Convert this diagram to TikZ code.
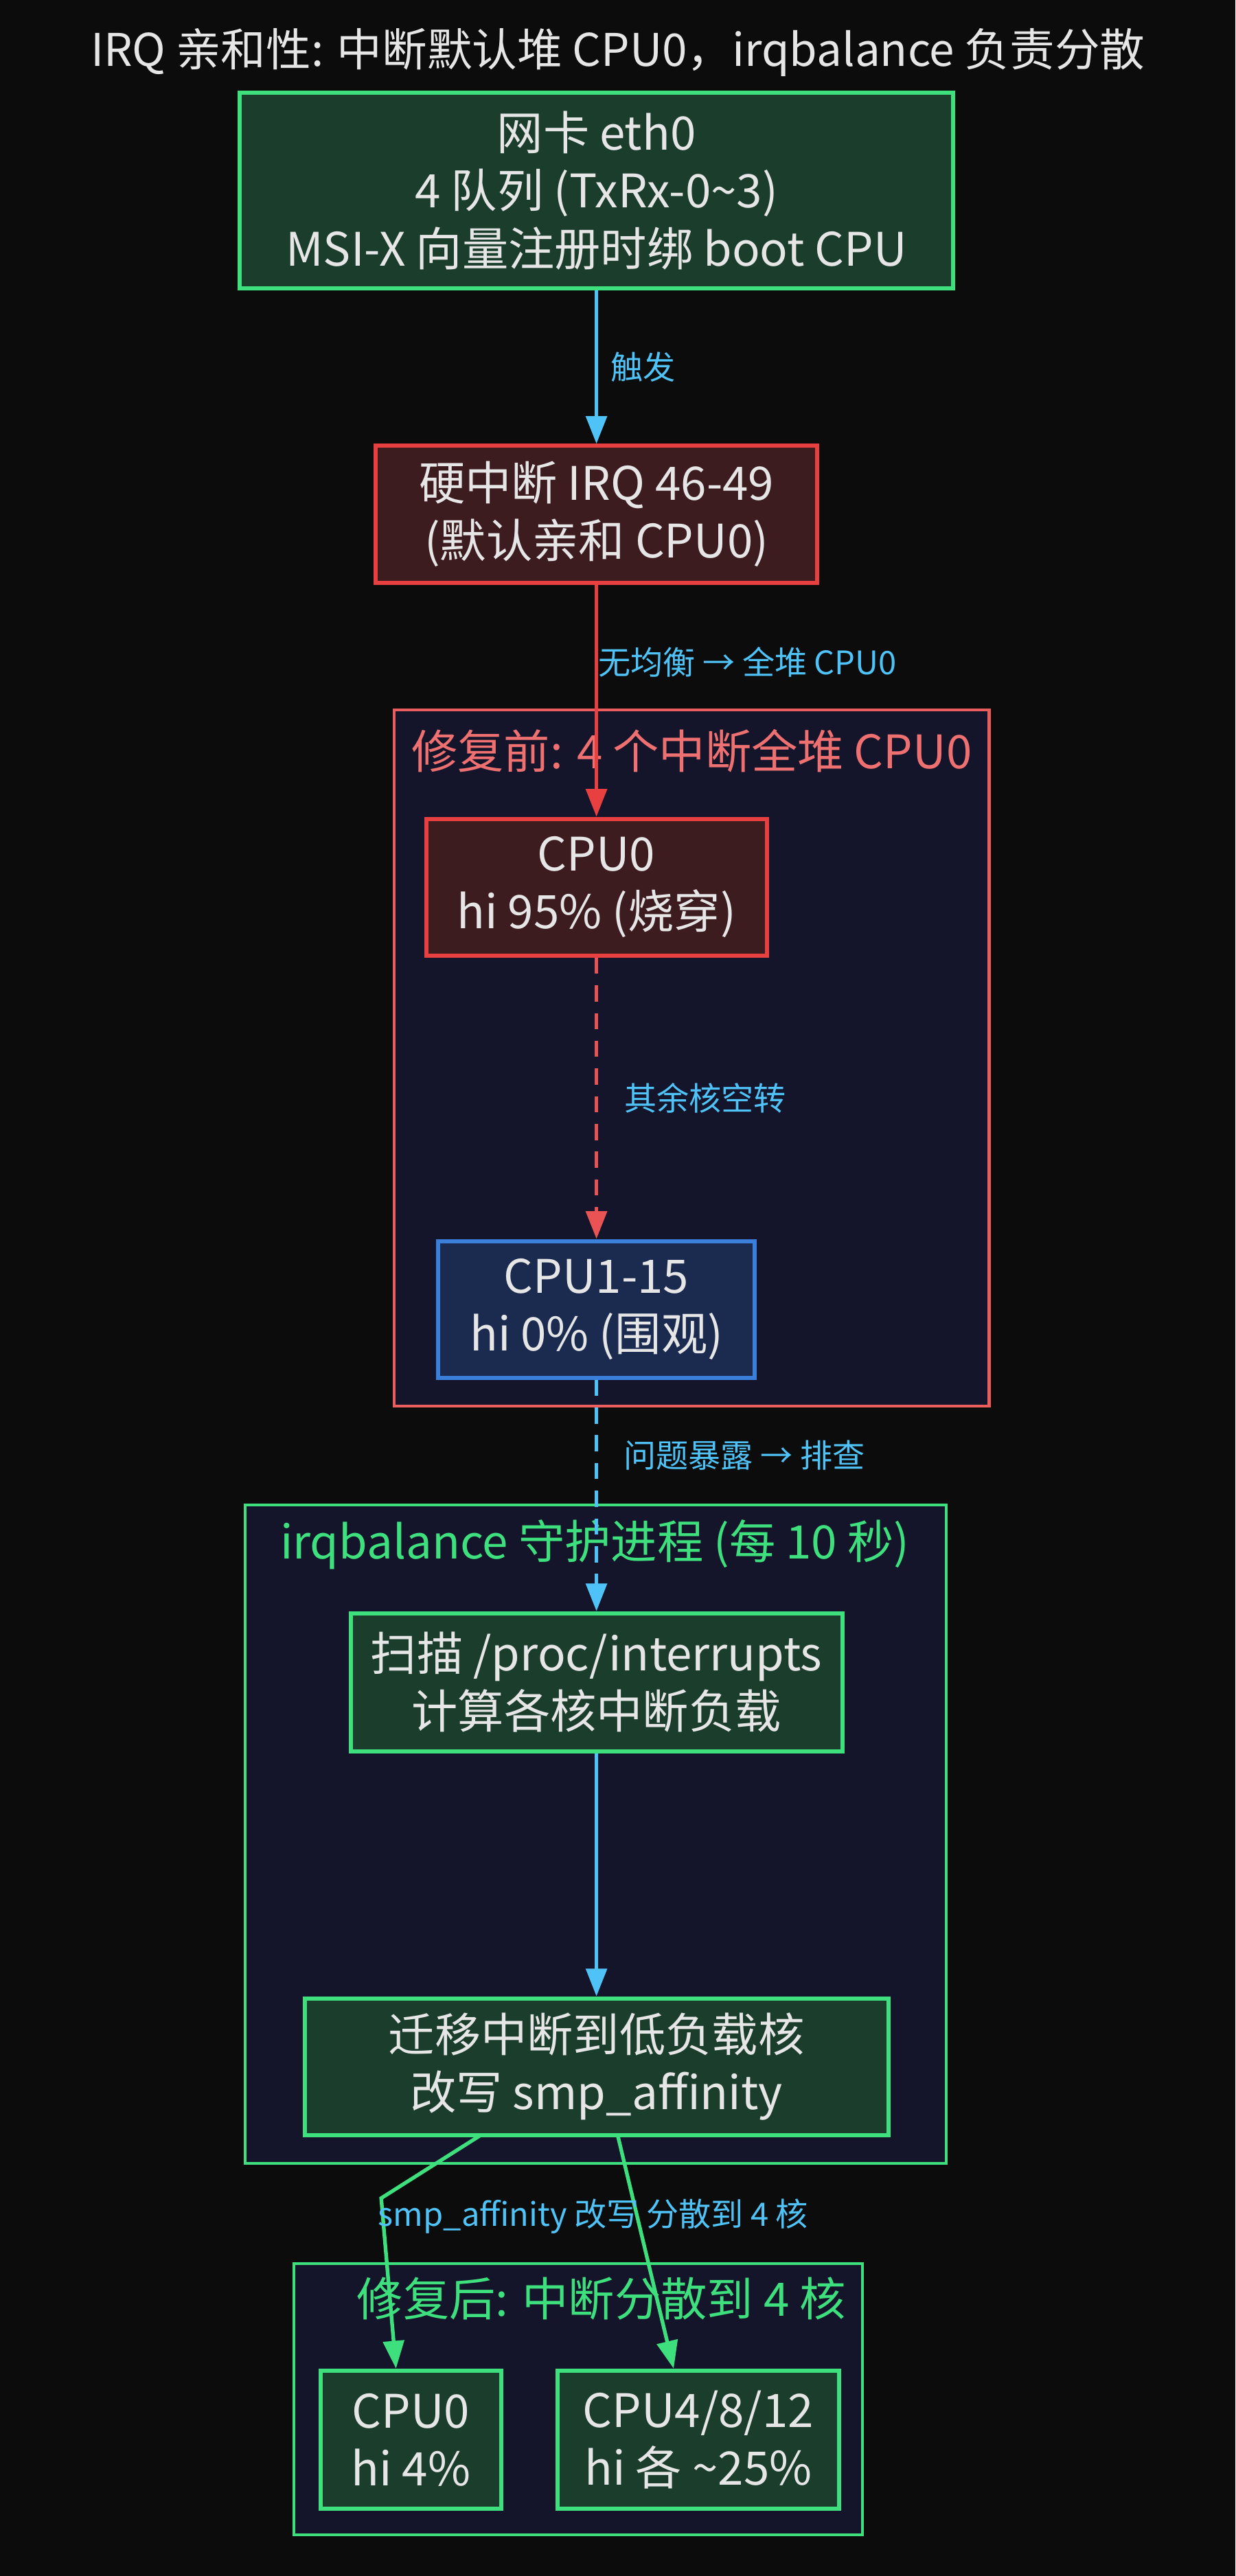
\documentclass[tikz,border=0pt]{standalone}
\usepackage{fontspec}
\setmainfont{Noto Sans CJK SC}
\usetikzlibrary{arrows.meta}
\definecolor{bg}{HTML}{0C0C0C}
\definecolor{txt}{HTML}{E6E6E6}
\definecolor{gfill}{HTML}{1B3D2C}
\definecolor{gline}{HTML}{3EE07E}
\definecolor{rfill}{HTML}{3D1C20}
\definecolor{rline}{HTML}{E84040}
\definecolor{bfill}{HTML}{1B2B50}
\definecolor{bline}{HTML}{3A80DA}
\definecolor{cfill}{HTML}{14152A}
\definecolor{elab}{HTML}{4FC3F7}
\tikzset{
  box/.style={draw, line width=1.8pt, text=txt, align=center, inner sep=0pt,
    font=\fontsize{20}{25}\selectfont},
  gbox/.style={box, fill=gfill, draw=gline},
  rbox/.style={box, fill=rfill, draw=rline},
  bbox/.style={box, fill=bfill, draw=bline},
  clus/.style={draw, line width=1.2pt, fill=cfill},
  ctitle/.style={font=\fontsize{20}{24}\selectfont},
  elabel/.style={text=elab, font=\fontsize{14}{17}\selectfont},
  arr/.style={line width=1.6pt, -{Triangle[length=12pt,width=9pt]}}
}
\begin{document}
\begin{tikzpicture}[x=0.025cm, y=-0.025cm]
\fill[bg] (0,0) rectangle (752,1568);
\useasboundingbox (0,0) rectangle (752,1568);

\node[text=txt, font=\fontsize{19.5}{22}\selectfont] (title) at (376,32) {IRQ 亲和性: 中断默认堆 CPU0，irqbalance 负责分散};

% clusters
\draw[clus, draw=rline!85] (240,432) rectangle (602,856);
\node[ctitle, text=rline!75!white] (ctbefore) at (421,457) {修复前: 4 个中断全堆 CPU0};
\draw[clus, draw=gline] (149,916) rectangle (576,1317);
\node[ctitle, text=gline] (ctirqb) at (362,940) {irqbalance 守护进程 (每 10 秒)};
\draw[clus, draw=gline] (179,1378) rectangle (525,1543);
\node[ctitle, text=gline] (ctafter) at (366,1399) {修复后: 中断分散到 4 核};

% nodes
\node[gbox, minimum width=10.85cm, minimum height=2.98cm] (nic) at (363,116) {网卡 eth0\\4 队列 (TxRx-0\textasciitilde 3)\\MSI-X 向量注册时绑 boot CPU};
\node[rbox, minimum width=6.72cm, minimum height=2.08cm] (irq) at (363,313) {硬中断 IRQ 46-49\\(默认亲和 CPU0)};
\node[rbox, minimum width=5.18cm, minimum height=2.08cm] (cpu0) at (363,540) {CPU0\\hi 95\% (烧穿)};
\node[bbox, minimum width=4.82cm, minimum height=2.08cm] (cpurest) at (363,797) {CPU1-15\\hi 0\% (围观)};
\node[gbox, minimum width=7.48cm, minimum height=2.1cm] (scan) at (363,1024) {扫描 /proc/interrupts\\计算各核中断负载};
\node[gbox, minimum width=8.88cm, minimum height=2.08cm] (migrate) at (363,1258) {迁移中断到低负载核\\改写 smp\_affinity};
\node[gbox, minimum width=2.75cm, minimum height=2.1cm] (newcpu0) at (250,1485) {CPU0\\hi 4\%};
\node[gbox, minimum width=4.28cm, minimum height=2.1cm] (newcpus) at (425,1485) {CPU4/8/12\\hi 各 \textasciitilde 25\%};

% edges
\draw[arr, elab] (nic) -- node[elabel, right, xshift=2pt] {触发} (irq);
\draw[arr, rline] (irq) -- (cpu0);
\node[elabel] (lblirq) at (455,403) {无均衡 → 全堆 CPU0};
\draw[arr, rline!90, dashed, dash pattern=on 7pt off 5pt] (cpu0) -- node[elabel, right, xshift=8pt] {其余核空转} (cpurest);
\draw[arr, elab, dashed, dash pattern=on 7pt off 5pt] (cpurest) -- (scan);
\node[elabel] (lblexp) at (453,886) {问题暴露 → 排查};
\draw[arr, elab] (scan) -- (migrate);
\coordinate (bend) at (232,1338);
\draw[arr, gline] (292,1300) -- (bend) -- (newcpu0.north -| 241,0);
\draw[arr, gline] (376,1300) -- (newcpus.north -| 410,0);
\node[elabel] (lblaff) at (361,1349) {smp\_affinity 改写 分散到 4 核};
\end{tikzpicture}
\end{document}
